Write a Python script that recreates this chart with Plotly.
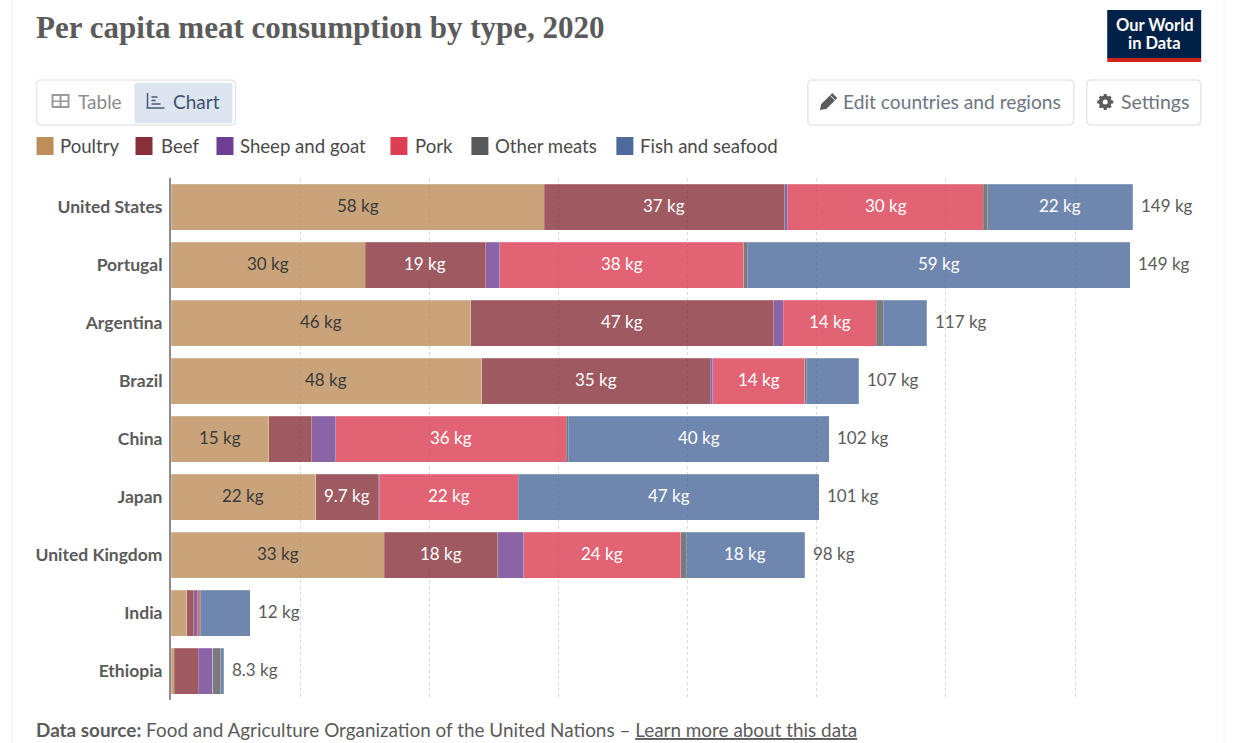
import plotly.graph_objects as go

W, H = 1240, 743
M_L, M_R, M_T, M_B = 170.5, 68.2, 178, 43
PLOT_W, PLOT_H = W - M_L - M_R, H - M_T - M_B

# Data (kg per person)
countries = ["United States", "Portugal", "Argentina", "Brazil", "China", "Japan",
             "United Kingdom", "India", "Ethiopia"]
poultry = [57.8, 30.1, 46.4, 48.1, 15.1, 22.4, 33.0, 2.4, 0.5]
beef = [37.2, 18.6, 46.9, 35.4, 6.7, 9.7, 17.6, 1.1, 3.7]
sheep = [0.5, 2.2, 1.5, 0.4, 3.7, 0.15, 4.0, 0.6, 2.3]
pork = [30.3, 37.8, 14.4, 14.2, 35.7, 21.5, 24.3, 0.3, 0.0]
other = [0.7, 0.5, 1.1, 0.3, 0.3, 0.05, 0.9, 0.1, 1.2]
fish = [22.4, 59.3, 6.7, 8.1, 40.4, 46.6, 18.3, 7.8, 0.5]
totals = ["149 kg", "149 kg", "117 kg", "107 kg", "102 kg", "101 kg", "98 kg", "12 kg", "8.3 kg"]

series_names = ["Poultry", "Beef", "Sheep and goat", "Pork", "Other meats", "Fish and seafood"]
series_values = [poultry, beef, sheep, pork, other, fish]
series_colors = ["#BC8E5A", "#883039", "#6D3E91", "#DC3E52", "#58595B", "#4C6A9C"]
label_colors = ["#3a3a3a", "#ffffff", "#ffffff", "#ffffff", "#ffffff", "#ffffff"]

GREY = "#5b5b5b"
FONT = "Lato"


def fmt(v):
    if v < 9:
        return ""
    return f"{v:.0f} kg" if v >= 10 else f"{v:.1f} kg"


# paper coordinates are relative to the plot area, so convert from page pixels
def px(x):
    return (x - M_L) / PLOT_W


def py(y):
    return 1 - (y - M_T) / PLOT_H


def round_rect(x0, y0, x1, y1, r):
    a, b, c, d = px(x0), px(x1), py(y0), py(y1)
    rx, ry = r / PLOT_W, r / PLOT_H
    return (f"M{a + rx},{c} L{b - rx},{c} Q{b},{c} {b},{c - ry} L{b},{d + ry} Q{b},{d} {b - rx},{d} "
            f"L{a + rx},{d} Q{a},{d} {a},{d + ry} L{a},{c - ry} Q{a},{c} {a + rx},{c} Z")


def rect(x0, y0, x1, y1, fill):
    return dict(type="rect", xref="paper", yref="paper", x0=px(x0), x1=px(x1), y0=py(y0), y1=py(y1),
                fillcolor=fill, line_width=0, layer="above")


def line(x0, y0, x1, y1, color, width=1):
    return dict(type="line", xref="paper", yref="paper", x0=px(x0), x1=px(x1), y0=py(y0), y1=py(y1),
                line=dict(color=color, width=width), layer="above")


def circle(cx, cy, r, fill):
    return dict(type="circle", xref="paper", yref="paper", x0=px(cx - r), x1=px(cx + r), y0=py(cy - r),
                y1=py(cy + r), fillcolor=fill, line_width=0, layer="above")


def polygon(points, fill):
    path = "M" + " L".join(f"{px(x)},{py(y)}" for x, y in points) + " Z"
    return dict(type="path", xref="paper", yref="paper", path=path, fillcolor=fill, line_width=0, layer="above")


def label(x, y, text, size=18, color=GREY, anchor="left", family=FONT):
    # annotations sit about 3px inside their box
    x = x - 3 if anchor == "left" else x
    return dict(xref="paper", yref="paper", x=px(x), y=py(y), text=text, showarrow=False,
                xanchor=anchor, yanchor="middle", align=anchor,
                font=dict(size=size, color=color, family=family))


fig = go.Figure()

annotations = []

for name, vals, col, txt in zip(series_names, series_values, series_colors, label_colors):
    fig.add_trace(go.Bar(
        y=countries, x=vals, name=name, orientation="h", showlegend=False,
        marker=dict(color=col, opacity=0.8, line=dict(color="rgba(255,255,255,0.4)", width=0.5)),
    ))

# value labels in the middle of each segment, totals at the end of each bar
for i, c in enumerate(countries):
    left = 0
    for vals, txt in zip(series_values, label_colors):
        if fmt(vals[i]):
            annotations.append(dict(x=left + vals[i] / 2, y=c, xref="x", yref="y", text=fmt(vals[i]),
                                    showarrow=False, yshift=2, font=dict(size=17, color=txt, family=FONT)))
        left += vals[i]
    annotations.append(dict(x=left, y=c, xref="x", yref="y", text=totals[i], showarrow=False,
                            xanchor="left", xshift=6, yshift=2, font=dict(size=17, color=GREY, family=FONT)))

shapes = []

# card edges
shapes += [line(12, 0, 12, H, "#f2f2f2"), line(1224, 0, 1224, H, "#f2f2f2")]

# logo
shapes += [rect(1107, 10, 1201, 58, "#002147"), rect(1107, 58, 1201, 62, "#CE261E")]
annotations += [label(1154.5, 25, "<b>Our World</b>", 16.5, "#ffffff", "center"),
                label(1154.5, 43, "<b>in Data</b>", 16.5, "#ffffff", "center")]

# title
annotations.append(label(36, 27, "<b>Per capita meat consumption by type, 2020</b>", 31, GREY, family="Liberation Serif"))

# table / chart switch
shapes += [
    dict(type="path", xref="paper", yref="paper", path=round_rect(36, 80, 235, 125, 5),
         line=dict(color="#e7e7e7", width=1.5), fillcolor="#ffffff", layer="above"),
    dict(type="path", xref="paper", yref="paper", path=round_rect(134, 83, 232, 123, 2),
         line_width=0, fillcolor="#DCE5F0", layer="above"),
    rect(51, 94, 69, 108, "#9a9a9a"), rect(53, 96, 59, 100.5, "#ffffff"), rect(61, 96, 67, 100.5, "#ffffff"),
    rect(53, 102, 59, 106, "#ffffff"), rect(61, 102, 67, 106, "#ffffff"),
    line(147, 93, 147, 108, "#4a5a78", 1.5), line(146, 108, 164, 108, "#4a5a78", 1.5),
    line(151, 97, 157, 97, "#4a5a78", 1.5), line(151, 100.5, 155, 100.5, "#4a5a78", 1.5),
    line(151, 104, 160, 104, "#4a5a78", 1.5),
]
annotations += [label(78, 101, "Table", 19, "#8c8c8c"), label(173, 101, "Chart", 19, "#3f5170")]

# right hand buttons
shapes += [
    dict(type="path", xref="paper", yref="paper", path=round_rect(807.5, 80, 1073.5, 125, 5),
         line=dict(color="#e7e7e7", width=1.5), fillcolor="#ffffff", layer="above"),
    dict(type="path", xref="paper", yref="paper", path=round_rect(1086.5, 80, 1200.5, 125, 5),
         line=dict(color="#e7e7e7", width=1.5), fillcolor="#ffffff", layer="above"),
    # pencil
    polygon([(819.5, 110), (821, 104), (832, 93), (837, 98), (826, 109)], "#5b5b5b"),
    line(830, 95.5, 834.5, 100, "#ffffff", 1),
    # gear
    line(1097, 102, 1113, 102, "#5b5b5b", 3), line(1105, 94, 1105, 110, "#5b5b5b", 3),
    line(1099.5, 96.5, 1110.5, 107.5, "#5b5b5b", 3), line(1099.5, 107.5, 1110.5, 96.5, "#5b5b5b", 3),
    circle(1105, 102, 6.5, "#5b5b5b"), circle(1105, 102, 2.5, "#ffffff"),
]
annotations += [label(844, 101, "Edit countries and regions", 19.2, "#6e7581"),
                label(1122, 101, "Settings", 19.5, "#6e7581")]

# legend
legend_x = [36, 135, 216, 390, 471, 616]
legend_text_x = [60, 161, 241, 416, 496, 641]
for x, tx, name, col in zip(legend_x, legend_text_x, series_names, series_colors):
    shapes.append(rect(x, 137, x + 17, 155, col))
    annotations.append(label(tx, 146, name, 18.6, "#4a4a4a"))

# footer
annotations.append(label(36, 729.5, "<b>Data source:</b> Food and Agriculture Organization of the United Nations \u2013 "
                                    "<u>Learn more about this data</u>", 18.9, GREY))

fig.update_layout(
    width=W, height=H, barmode="stack", bargap=0.207,
    margin=dict(l=M_L, r=M_R, t=M_T, b=M_B),
    plot_bgcolor="#ffffff", paper_bgcolor="#ffffff",
    shapes=shapes, annotations=annotations, showlegend=False,
    xaxis=dict(range=[0, 155], dtick=20, showticklabels=False, showline=False, zeroline=False,
               showgrid=True, gridcolor="#d8d8d8", griddash="dot", gridwidth=1),
    yaxis=dict(type="category", categoryorder="array", categoryarray=countries, autorange="reversed",
               showline=True, linecolor="#8c8c8c", linewidth=2, ticks="", ticklabelstandoff=3,
               tickmode="array", tickvals=countries, ticktext=[f"<b>{c}</b>" for c in countries],
               tickfont=dict(size=17.5, color=GREY, family=FONT), showgrid=False),
)

fig.write_html("out.html", config=dict(displayModeBar=False),
               post_script="document.body.style.margin='0';document.body.style.overflow='hidden';")
